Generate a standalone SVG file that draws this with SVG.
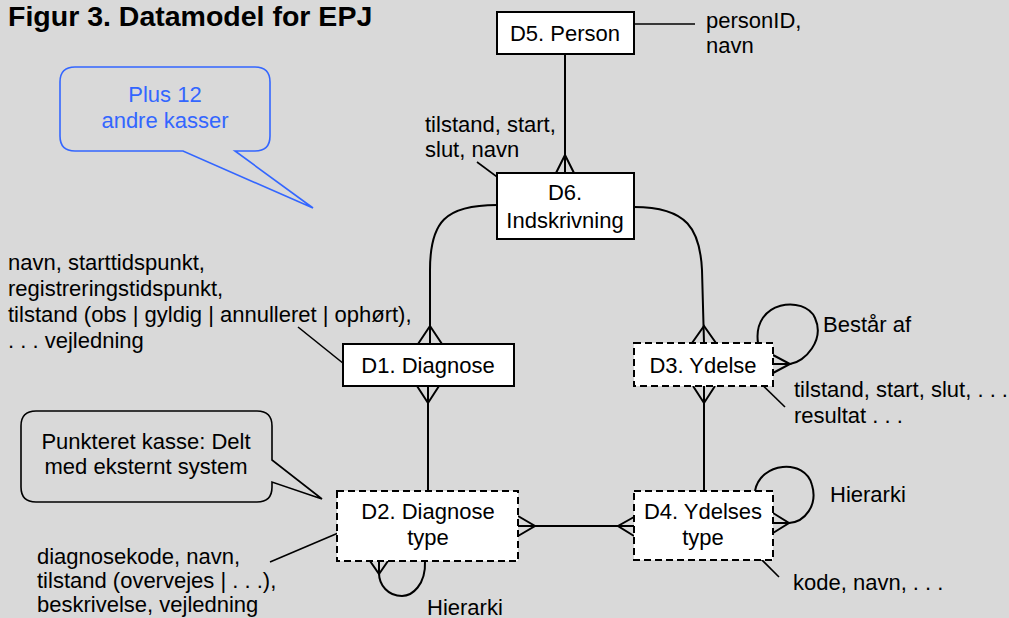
<svg xmlns="http://www.w3.org/2000/svg" width="1009" height="618" viewBox="0 0 1009 618">
<style>
text{font-family:"Liberation Sans",Arial,sans-serif;font-size:22px;fill:#000}
.title{font-weight:bold;font-size:28.5px}
.c{text-anchor:middle}
.box{fill:#fff;stroke:#000;stroke-width:2}
.dash{fill:#fff;stroke:#000;stroke-width:2;stroke-dasharray:7,4}
.ln{fill:none;stroke:#000;stroke-width:2}
.lead{fill:none;stroke:#000;stroke-width:1.6}
.blue{fill:#3366ff}
</style>
<rect width="1009" height="618" fill="#d9d9d9"/>
<text class="title" x="8" y="26">Figur 3. Datamodel for EPJ</text>

<g id="callout-plus">
<path d="M75,67 H255 Q270,67 270,82 V136 Q270,151 255,151 H235 L313,208 L183,151 H75 Q60,151 60,136 V82 Q60,67 75,67 Z" fill="none" stroke="#3366ff" stroke-width="1.6"/>
<text class="c blue" x="165" y="102">Plus 12</text>
<text class="c blue" x="165" y="128">andre kasser</text>
</g>

<g id="callout-punkteret">
<path d="M36,411 H257 Q272,411 272,426 V460 L322,499 L272,482 V487 Q272,502 257,502 H36 Q21,502 21,487 V426 Q21,411 36,411 Z" fill="#d9d9d9" stroke="#000" stroke-width="1.6"/>
<text class="c" x="146" y="449">Punkteret kasse: Delt</text>
<text class="c" x="146" y="474">med eksternt system</text>
</g>

<g id="connectors">
<path class="ln" d="M565,54 V173"/>
<polyline class="ln" points="556,173 565,155 574,173"/>
<path class="ln" d="M497,205 C445,205 430,222 430,270 V344"/>
<polyline class="ln" points="418,344 430,326 442,344"/>
<path class="ln" d="M634,207 C688,207 700,230 702,270 L704,343"/>
<polyline class="ln" points="692,343 704,326 716,343"/>
<path class="ln" d="M428,386 V491"/>
<polyline class="ln" points="417,386 428,403 439,386"/>
<path class="ln" d="M704,386 V491"/>
<polyline class="ln" points="693,386 704,403 715,386"/>
<path class="ln" d="M518,526 H634"/>
<polyline class="ln" points="634,517 618,526 634,536"/>
<polyline class="ln" points="518,516 535,526 518,536"/>
<path class="ln" d="M758,343 C752,300 805,295 815,318 C825,340 805,362 790,364 L773,364"/>
<polyline class="ln" points="773,355 790,364 773,373"/>
<path class="ln" d="M755,491 C760,462 805,458 812,485 C818,505 805,522 789,523 L773,523"/>
<polyline class="ln" points="773,513 789,523 773,533"/>
<path class="ln" d="M425,561 C426,585 412,596 402,596 C388,596 379,585 379,573 L379,561"/>
<polyline class="ln" points="370,561 379,574 388,561"/>
</g>

<g id="leaders">
<path class="lead" d="M627,24 H695"/>
<path class="lead" d="M477,162 L512,188"/>
<path class="lead" d="M298,327 L354,372"/>
<path class="lead" d="M749,372 L785,407"/>
<path class="lead" d="M746,544 L779,577"/>
<path class="lead" d="M270,562 L357,525"/>
</g>

<g id="D5">
<rect class="box" x="497" y="12" width="137" height="42"/>
<text class="c" x="565" y="41">D5. Person</text>
</g>
<g id="D6">
<rect class="box" x="497" y="173" width="137" height="66"/>
<text class="c" x="565" y="200">D6.</text>
<text class="c" x="565" y="228">Indskrivning</text>
</g>
<g id="D1">
<rect class="box" x="343" y="344" width="171" height="42"/>
<text class="c" x="428" y="373">D1. Diagnose</text>
</g>
<g id="D3">
<rect class="dash" x="634" y="343" width="139" height="43"/>
<text class="c" x="703" y="373">D3. Ydelse</text>
</g>
<g id="D2">
<rect class="dash" x="337" y="491" width="181" height="70"/>
<text class="c" x="428" y="519">D2. Diagnose</text>
<text class="c" x="428" y="545">type</text>
</g>
<g id="D4">
<rect class="dash" x="634" y="491" width="139" height="69"/>
<text class="c" x="703" y="519">D4. Ydelses</text>
<text class="c" x="703" y="545">type</text>
</g>

<g id="labels">
<text x="706" y="28">personID,</text>
<text x="706" y="53">navn</text>
<text x="425" y="132">tilstand, start,</text>
<text x="425" y="157">slut, navn</text>
<text x="8" y="270">navn, starttidspunkt,</text>
<text x="8" y="296">registreringstidspunkt,</text>
<text x="8" y="322">tilstand (obs | gyldig | annulleret | ophørt),</text>
<text x="8" y="348">. . . vejledning</text>
<text x="823" y="332">Består af</text>
<text x="794" y="397">tilstand, start, slut, . . .</text>
<text x="794" y="423">resultat . . .</text>
<text x="830" y="502">Hierarki</text>
<text x="793" y="590">kode, navn, . . .</text>
<text x="427" y="615">Hierarki</text>
<text x="37" y="564">diagnosekode, navn,</text>
<text x="37" y="588">tilstand (overvejes | . . .),</text>
<text x="37" y="612">beskrivelse, vejledning</text>
</g>
</svg>
